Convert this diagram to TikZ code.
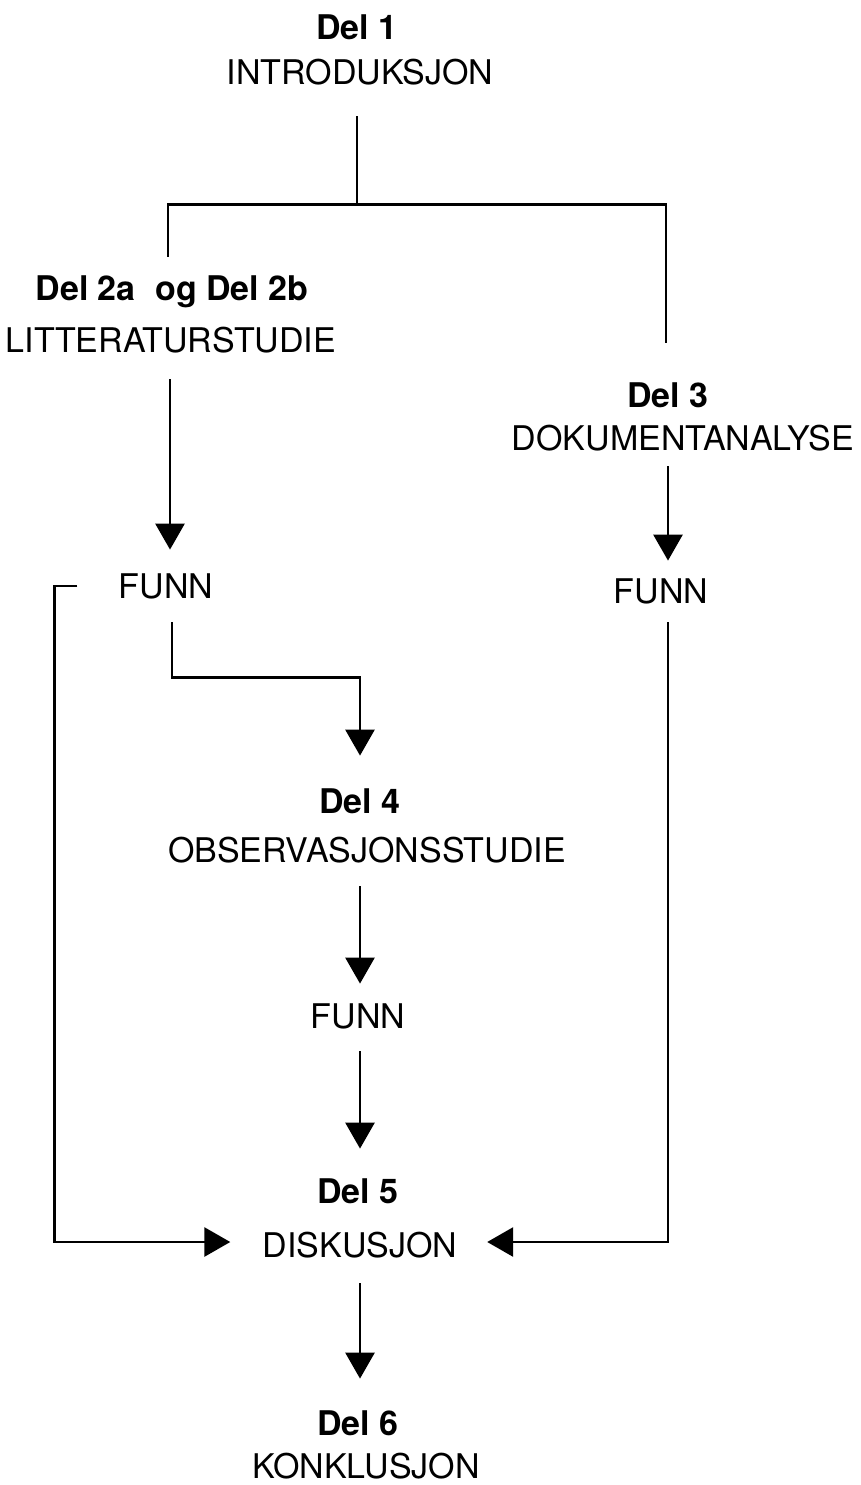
\documentclass[tikz,border=0pt]{standalone}
\usepackage{fontspec}
\setmainfont{TeX Gyre Heros}
\usetikzlibrary{arrows.meta,calc}
\begin{document}
\begin{tikzpicture}[x=1pt,y=-1pt,line width=2.8pt,
  lab/.style={inner sep=0pt,anchor=base,text height=25pt,text depth=0pt,font=\fontsize{34}{40}\selectfont},
  hd/.style={lab,font=\fontsize{34}{40}\selectfont\bfseries},
  arr/.style={-{Triangle[length=26pt,width=29pt]}}]
\path[use as bounding box] (0,0) rectangle (860,1485);
% nodes
\node[hd]  (d1)    at (357,40)   {Del 1};
\node[lab] (intro) at (360,85)   {INTRODUKSJON};
\node[hd]  (d2)    at (172,300)  {Del 2a\hspace{0.3em} og Del 2b};
\node[lab] (lit)   at (171,352)  {LITTERATURSTUDIE};
\node[hd]  (d3)    at (668,407)  {Del 3};
\node[lab] (dok)   at (683,450)  {DOKUMENTANALYSE};
\node[lab] (funnL) at (166,598)  {FUNN};
\node[lab] (funnR) at (661,603)  {FUNN};
\node[hd]  (d4)    at (360,813)  {Del 4};
\node[lab] (obs)   at (367,862)  {OBSERVASJONSSTUDIE};
\node[lab] (funnM) at (358,1028) {FUNN};
\node[hd]  (d5)    at (358,1203) {Del 5};
\node[lab] (disk)  at (360,1257) {DISKUSJON};
\node[hd]  (d6)    at (358,1435) {Del 6};
\node[lab] (konk)  at (366,1478) {KONKLUSJON};
% connectors
\draw ($(intro.south)+(-3,30)$) -- ++(0,88) coordinate (j);
\draw ($(d2.north)+(-4,-17)$) |- (j) -| ($(d3.north)+(-2,-38)$);
\draw[arr] ($(lit.south)+(-1,26)$) -- ($(funnL.north)+(4,-22)$);
\draw[arr] ($(dok.south)+(-15,15)$) -- ($(funnR.north)+(7,-16)$);
\draw[arr] ($(funnL.south)+(6,23)$) -- ++(0,55) -| ($(d4.north)+(0,-31)$);
\draw[arr] ($(obs.south)+(-7,23)$) -- ($(funnM.north)+(2,-18)$);
\draw[arr] ($(funnM.south)+(2,22)$) -- ($(d5.north)+(2,-28)$);
\draw[arr] ($(disk.south)+(0,25)$) -- ($(d6.north)+(2,-30)$);
\draw[arr] ($(funnL.west)+(-40,0.5)$) -- ++(-23,0) |- ($(disk.west)+(-31,-2.5)$);
\draw[arr] ($(funnR.south)+(7,18)$) |- ($(disk.east)+(28.5,-2.5)$);
\end{tikzpicture}
\end{document}
